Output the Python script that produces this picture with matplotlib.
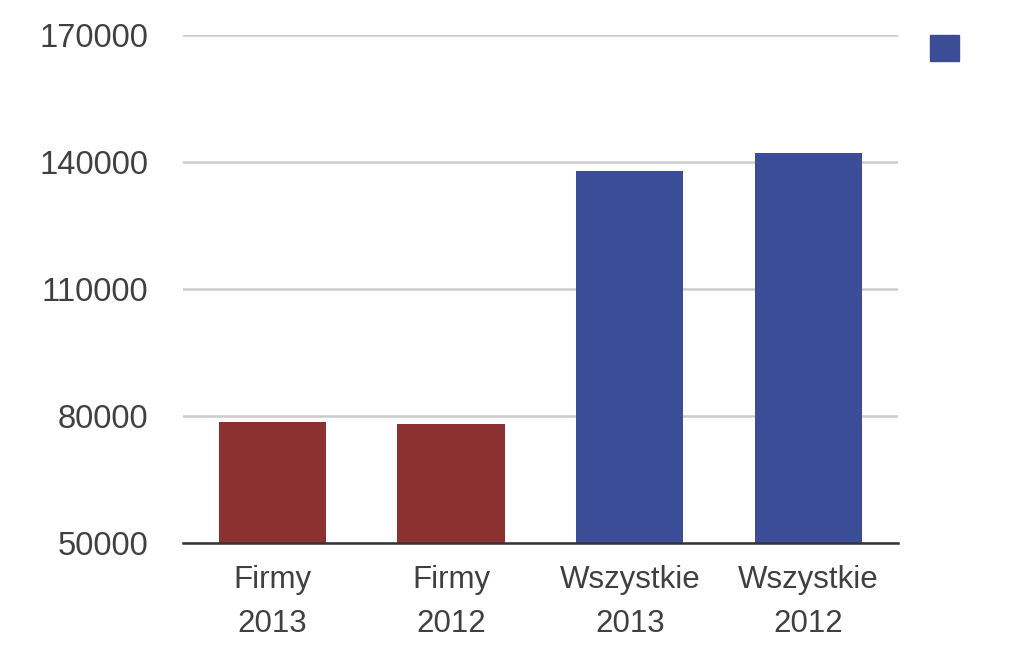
import matplotlib.pyplot as plt
from matplotlib.patches import Patch

categories = ["Firmy\n2013", "Firmy\n2012", "Wszystkie\n2013", "Wszystkie\n2012"]
values = [78600, 78100, 137800, 142100]
bar_colors = ["#8b3230", "#8b3230", "#3a4d96", "#3a4d96"]
y_ticks = [50000, 80000, 110000, 140000, 170000]

plt.rcParams["font.family"] = ["Liberation Sans", "DejaVu Sans"]

fig = plt.figure(figsize=(10.1, 6.62), dpi=100)
ax = fig.add_axes([0.181, 0.180, 0.708, 0.767])

x = range(len(categories))
ax.bar(x, [v - y_ticks[0] for v in values], bottom=y_ticks[0], width=0.6,
       color=bar_colors, zorder=3)

ax.set_xlim(-0.5, 3.5)
ax.set_ylim(y_ticks[0], y_ticks[-1])
ax.set_yticks(y_ticks)
ax.set_yticklabels([str(t) for t in y_ticks])
ax.set_xticks(list(x))
ax.set_xticklabels(categories, linespacing=1.6)
ax.tick_params(axis="both", length=0, labelcolor="#404040")
ax.tick_params(axis="y", pad=25, labelsize=23.5)
ax.tick_params(axis="x", pad=16, labelsize=22.5)

ax.grid(axis="y", color="#cccccc", linewidth=1.8, zorder=0)
for side in ["left", "right", "top"]:
    ax.spines[side].set_visible(False)
ax.spines["bottom"].set_color("#333333")
ax.spines["bottom"].set_linewidth(1.8)
ax.spines["bottom"].set_zorder(4)

ax.legend(handles=[Patch(color="#3a4d96")], labels=[""], loc="upper left",
          bbox_to_anchor=(1.008, 1.052), frameon=False, handlelength=1.0,
          handleheight=1.0, fontsize=21)

fig.savefig("out.png", dpi=100)
